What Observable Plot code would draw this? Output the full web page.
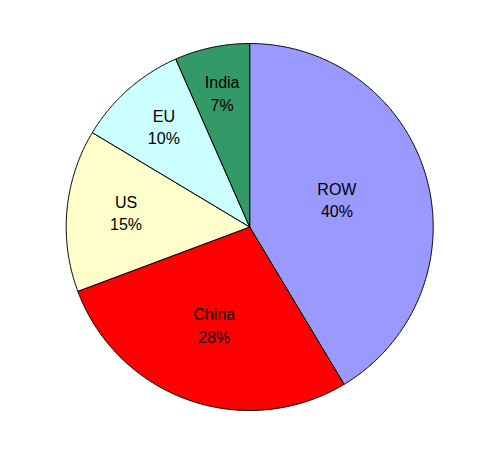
<!DOCTYPE html>
<html>
<head>
<meta charset="utf-8">
<script src="https://cdn.jsdelivr.net/npm/d3@7"></script>
<script src="https://cdn.jsdelivr.net/npm/@observablehq/plot@0.6"></script>
<style>
  html, body { margin: 0; padding: 0; background: #ffffff; }
  #chart { width: 502px; height: 451px; }
</style>
</head>
<body>
<div id="chart"></div>
<script>
// ---- data ----
const categories = ["ROW", "China", "US", "EU", "India"];
const shares = [41.4, 27.9, 14.3, 9.8, 6.6];            // slice sizes as drawn
const percentLabels = ["40%", "28%", "15%", "10%", "7%"]; // label texts as printed
const sliceColors = ["#9999FF", "#FF0000", "#FFFFCC", "#CCFFFF", "#339966"];

// ---- build slice outlines (unit-radius pie, clockwise from 12 o'clock) ----
const arcs = d3.pie().sort(null).value(d => d)(shares);
const outline = [];
arcs.forEach((a, i) => {
  const cat = categories[i];
  outline.push({cat, x: 0, y: 0});
  const n = Math.max(8, Math.ceil((a.endAngle - a.startAngle) / (Math.PI / 360)));
  for (let k = 0; k <= n; k++) {
    const t = a.startAngle + (a.endAngle - a.startAngle) * k / n;
    outline.push({cat, x: Math.sin(t), y: Math.cos(t)});
  }
  outline.push({cat, x: 0, y: 0});
});

// labels: at the slice's mid angle; wider slices put their label nearer the centre
const labels = arcs.map((a, i) => {
  const mid = (a.startAngle + a.endAngle) / 2;
  const sweep = a.endAngle - a.startAngle;
  const d = 0.774 - 0.108 * sweep;
  return {cat: categories[i], text: categories[i] + "\n" + percentLabels[i],
          x: d * Math.sin(mid), y: d * Math.cos(mid)};
});

const W = 502, H = 451, cx = 249.2, cy = 226.5, R = 183.5;

const chart = Plot.plot({
  width: W,
  height: H,
  margin: 0,
  style: {background: "#ffffff", fontFamily: "'Liberation Sans', Arial, sans-serif"},
  x: {domain: [-cx / R, (W - cx) / R], range: [0, W], axis: null},
  y: {domain: [(cy - H) / R, cy / R], range: [H, 0], axis: null},
  color: {domain: categories, range: sliceColors, legend: false},
  marks: [
    Plot.line(outline, {x: "x", y: "y", z: "cat", fill: "cat", stroke: "#000000",
                        strokeWidth: 1, strokeLinejoin: "round", curve: "linear"}),
    Plot.text(labels, {x: "x", y: "y", text: "text", fontSize: 16, lineHeight: 1.42,
                       fill: "#000000", textAnchor: "middle", dy: -4})
  ]
});
document.getElementById("chart").appendChild(chart);
</script>
</body>
</html>
